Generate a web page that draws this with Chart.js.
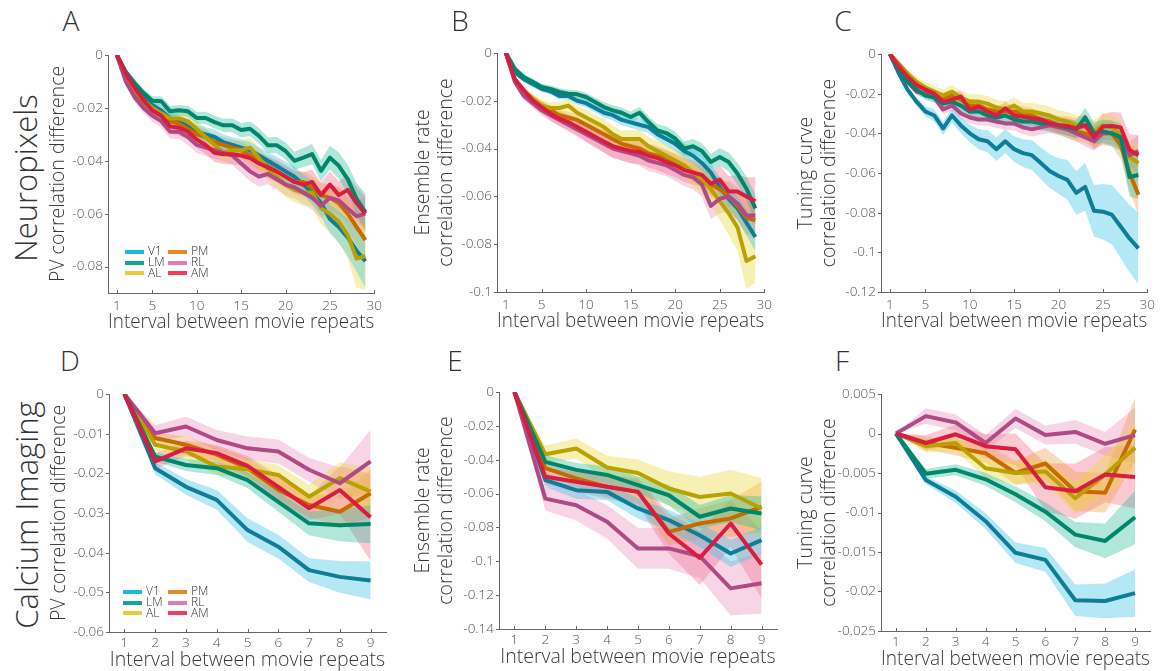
<!DOCTYPE html>
<html lang="en">
<head>
<meta charset="UTF-8" />
<title>Correlation difference vs interval between movie repeats</title>
<script src="https://cdn.jsdelivr.net/npm/chart.js@4"></script>
<style>
  body {
    margin: 0;
    width: 1161px;
    height: 671px;
    position: relative;
    overflow: hidden;
    background: #fff;
    font-family: "Open Sans", sans-serif;
    font-weight: 300;
    color: #333;
  }
  canvas { position: absolute; }
  .letter { position: absolute; font-size: 28px; line-height: 1; transform: translateX(-50%); }
  .row {
    position: absolute;
    font-size: 31px;
    white-space: nowrap;
    transform: translate(-50%, -50%) rotate(-90deg);
  }
  .leg { position: absolute; font-size: 12px; line-height: 12px; white-space: nowrap; }
  .leg span { display: inline-block; width: 19px; height: 4px; vertical-align: middle; margin-right: 4px; }
</style>
</head>
<body>
<div class="row" style="left:25px;top:178px">Neuropixels</div>
<div class="row" style="left:26px;top:515px">Calcium Imaging</div>

<script>
// ---- data ----
const AREAS = ["V1", "LM", "AL", "PM", "RL", "AM"];
const LINE_COLORS = ["#0e7d98", "#00866b", "#b8a100", "#c66b00", "#b04a86", "#d81d40"];
const BAND_COLORS = [
  "rgba(60,195,228,0.38)", "rgba(40,185,155,0.36)", "rgba(235,215,60,0.38)",
  "rgba(238,150,60,0.34)", "rgba(232,125,178,0.32)", "rgba(242,75,105,0.30)"
];
const LEGEND_COLORS = ["#1db8da", "#12a98a", "#e6cb3c", "#e38a2b", "#e07cb4", "#ef3f5f"];

const X_NP = [1,2,3,4,5,6,7,8,9,10,11,12,13,14,15,16,17,18,19,20,21,22,23,24,25,26,27,28,29];
const X_CA = [1,2,3,4,5,6,7,8,9];
const X_TICKS_NP = [1, 5, 10, 15, 20, 25, 30];
const X_TICKS_CA = [1, 2, 3, 4, 5, 6, 7, 8, 9];

const Y_TICKS_A = [0, -0.02, -0.04, -0.06, -0.08];
const Y_TICKS_B = [0, -0.02, -0.04, -0.06, -0.08, -0.1];
const Y_TICKS_C = [0, -0.02, -0.04, -0.06, -0.08, -0.1, -0.12];
const Y_TICKS_D = [0, -0.01, -0.02, -0.03, -0.04, -0.05, -0.06];
const Y_TICKS_E = [0, -0.02, -0.04, -0.06, -0.08, -0.1, -0.12, -0.14];
const Y_TICKS_F = [0.005, 0, -0.005, -0.01, -0.015, -0.02, -0.025];

// A: Neuropixels, PV correlation
const A_V1 = [0,-0.008,-0.012,-0.016,-0.019,-0.021,-0.024,-0.025,-0.027,-0.029,-0.030,-0.031,-0.033,-0.034,-0.035,-0.036,-0.038,-0.040,-0.042,-0.044,-0.046,-0.049,-0.052,-0.056,-0.062,-0.065,-0.069,-0.074,-0.078];
const A_LM = [0,-0.0063,-0.0106,-0.0144,-0.0173,-0.0175,-0.0213,-0.0209,-0.0213,-0.0238,-0.0238,-0.0254,-0.0266,-0.0266,-0.0284,-0.0279,-0.0306,-0.0341,-0.0341,-0.0363,-0.0400,-0.0388,-0.0375,-0.0438,-0.0388,-0.0419,-0.0469,-0.0544,-0.0594];
const A_AL = [0,-0.008,-0.013,-0.017,-0.020,-0.022,-0.024,-0.024,-0.025,-0.028,-0.031,-0.034,-0.037,-0.036,-0.036,-0.035,-0.039,-0.043,-0.046,-0.049,-0.051,-0.052,-0.052,-0.058,-0.060,-0.063,-0.068,-0.077,-0.076];
const A_PM = [0,-0.009,-0.014,-0.018,-0.021,-0.023,-0.025,-0.026,-0.028,-0.030,-0.031,-0.033,-0.034,-0.035,-0.036,-0.038,-0.040,-0.042,-0.044,-0.046,-0.048,-0.048,-0.050,-0.053,-0.054,-0.056,-0.060,-0.065,-0.070];
const A_RL = [0,-0.010,-0.016,-0.020,-0.023,-0.025,-0.029,-0.029,-0.031,-0.034,-0.035,-0.036,-0.037,-0.038,-0.041,-0.044,-0.046,-0.045,-0.047,-0.049,-0.050,-0.052,-0.054,-0.057,-0.054,-0.055,-0.058,-0.061,-0.060];
const A_AM = [0,-0.0069,-0.0125,-0.017,-0.021,-0.023,-0.027,-0.0275,-0.029,-0.032,-0.034,-0.037,-0.0375,-0.0375,-0.038,-0.039,-0.041,-0.0425,-0.044,-0.046,-0.048,-0.049,-0.048,-0.053,-0.049,-0.053,-0.051,-0.056,-0.060];
const A_V1_ERR = [0,.001,.0015,.0018,.002,.002,.0022,.0024,.0025,.0026,.0027,.0028,.0029,.003,.003,.0031,.0032,.0033,.0035,.0036,.0038,.004,.0045,.005,.0055,.006,.007,.008,.01];
const A_LM_ERR = [0,.001,.0013,.0015,.0017,.0018,.002,.002,.0021,.0022,.0023,.0024,.0025,.0026,.0027,.0028,.003,.003,.0031,.0032,.0034,.0036,.0038,.004,.0045,.005,.0055,.006,.007];
const A_AL_ERR = [0,.0012,.0016,.002,.0022,.0024,.0026,.0028,.003,.003,.0032,.0034,.0035,.0036,.0037,.0038,.004,.0042,.0044,.0046,.0048,.005,.0055,.006,.007,.008,.009,.011,.013];
const A_PM_ERR = [0,.001,.0014,.0018,.002,.0022,.0024,.0025,.0026,.0027,.0028,.003,.003,.0031,.0032,.0033,.0034,.0035,.0036,.0037,.0038,.004,.0042,.0045,.005,.0055,.006,.007,.008];
const A_RL_ERR = [0,.0012,.0016,.002,.0022,.0024,.0026,.0028,.003,.0031,.0032,.0033,.0034,.0035,.0036,.0037,.0038,.0039,.004,.0041,.0042,.0043,.0045,.0047,.005,.0052,.0055,.006,.0065];
const A_AM_ERR = [0,.0012,.0016,.002,.0023,.0025,.0027,.0029,.003,.0032,.0034,.0036,.0037,.0038,.0039,.004,.0041,.0042,.0043,.0044,.0045,.0046,.0047,.0048,.005,.0053,.0056,.006,.0065];

// B: Neuropixels, ensemble rate correlation
const B_V1 = [0,-0.008,-0.011,-0.013,-0.015,-0.016,-0.018,-0.018,-0.020,-0.021,-0.023,-0.025,-0.026,-0.028,-0.029,-0.030,-0.031,-0.034,-0.036,-0.038,-0.041,-0.043,-0.046,-0.050,-0.056,-0.061,-0.065,-0.071,-0.077];
const B_LM = [0,-0.0066,-0.010,-0.012,-0.0142,-0.015,-0.0163,-0.017,-0.0173,-0.0184,-0.0205,-0.0226,-0.024,-0.025,-0.0268,-0.025,-0.0289,-0.0324,-0.0335,-0.0358,-0.040,-0.039,-0.041,-0.0456,-0.0435,-0.0456,-0.0505,-0.0568,-0.065];
const B_AL = [0,-0.011,-0.016,-0.019,-0.022,-0.023,-0.023,-0.022,-0.025,-0.027,-0.029,-0.031,-0.034,-0.036,-0.036,-0.036,-0.039,-0.041,-0.043,-0.045,-0.047,-0.050,-0.053,-0.057,-0.062,-0.067,-0.073,-0.087,-0.085];
const B_PM = [0,-0.011,-0.016,-0.020,-0.022,-0.024,-0.026,-0.027,-0.028,-0.030,-0.032,-0.034,-0.036,-0.038,-0.039,-0.040,-0.042,-0.043,-0.044,-0.046,-0.048,-0.050,-0.052,-0.055,-0.057,-0.060,-0.064,-0.069,-0.070];
const B_RL = [0,-0.012,-0.018,-0.021,-0.024,-0.026,-0.028,-0.030,-0.032,-0.034,-0.036,-0.038,-0.040,-0.041,-0.042,-0.043,-0.045,-0.046,-0.047,-0.049,-0.051,-0.052,-0.055,-0.064,-0.061,-0.060,-0.063,-0.068,-0.068];
const B_AM = [0,-0.011,-0.0156,-0.0198,-0.0226,-0.0254,-0.0275,-0.0289,-0.031,-0.033,-0.035,-0.037,-0.039,-0.040,-0.041,-0.0414,-0.043,-0.044,-0.0456,-0.047,-0.049,-0.050,-0.051,-0.0547,-0.053,-0.058,-0.058,-0.060,-0.062];
const B_V1_ERR = [0,.0008,.001,.0012,.0013,.0014,.0015,.0016,.0017,.0018,.0019,.002,.0021,.0022,.0023,.0024,.0025,.0026,.0028,.003,.0032,.0034,.0036,.0038,.004,.0045,.005,.0055,.006];
const B_LM_ERR = [0,.0008,.001,.0012,.0013,.0014,.0015,.0016,.0017,.0018,.0019,.002,.0021,.0022,.0023,.0024,.0025,.0026,.0027,.0028,.003,.0031,.0032,.0034,.0036,.004,.0045,.005,.006];
const B_AL_ERR = [0,.0012,.0016,.002,.0022,.0024,.0026,.0028,.003,.0032,.0033,.0034,.0035,.0036,.0037,.0038,.004,.0042,.0044,.0046,.005,.0055,.006,.007,.008,.009,.01,.012,.011];
const B_PM_ERR = [0,.001,.0014,.0017,.0019,.002,.0022,.0023,.0024,.0025,.0026,.0027,.0028,.0029,.003,.0031,.0032,.0033,.0034,.0035,.0037,.004,.0042,.0045,.005,.0055,.006,.007,.008];
const B_RL_ERR = [0,.0012,.0016,.002,.0022,.0024,.0026,.0028,.003,.0032,.0034,.0036,.0038,.004,.0041,.0042,.0043,.0044,.0045,.0046,.0048,.005,.0052,.0055,.006,.0065,.007,.0075,.008];
const B_AM_ERR = [0,.0014,.0018,.0022,.0025,.0028,.003,.0033,.0036,.004,.0043,.0046,.0048,.005,.005,.005,.005,.005,.005,.005,.005,.005,.0052,.0055,.006,.0065,.007,.008,.01];

// C: Neuropixels, tuning curve correlation
const C_V1 = [0,-0.0097,-0.018,-0.024,-0.029,-0.031,-0.0375,-0.031,-0.036,-0.040,-0.043,-0.044,-0.048,-0.044,-0.048,-0.050,-0.051,-0.055,-0.059,-0.0615,-0.0635,-0.070,-0.067,-0.079,-0.0795,-0.081,-0.087,-0.093,-0.098];
const C_LM = [0,-0.008,-0.014,-0.018,-0.021,-0.022,-0.025,-0.024,-0.026,-0.029,-0.029,-0.031,-0.032,-0.031,-0.033,-0.034,-0.034,-0.035,-0.035,-0.036,-0.037,-0.038,-0.032,-0.040,-0.039,-0.040,-0.042,-0.062,-0.061];
const C_AL = [0,-0.006,-0.010,-0.014,-0.017,-0.019,-0.021,-0.019,-0.022,-0.024,-0.024,-0.025,-0.027,-0.028,-0.026,-0.029,-0.029,-0.030,-0.031,-0.033,-0.034,-0.036,-0.037,-0.039,-0.036,-0.037,-0.041,-0.052,-0.055];
const C_PM = [0,-0.005,-0.010,-0.015,-0.018,-0.020,-0.022,-0.021,-0.023,-0.026,-0.026,-0.028,-0.029,-0.029,-0.029,-0.030,-0.031,-0.033,-0.034,-0.036,-0.038,-0.039,-0.040,-0.042,-0.040,-0.040,-0.046,-0.060,-0.071];
const C_RL = [0,-0.008,-0.014,-0.019,-0.020,-0.022,-0.028,-0.026,-0.030,-0.032,-0.033,-0.033,-0.034,-0.035,-0.035,-0.037,-0.038,-0.037,-0.036,-0.037,-0.038,-0.040,-0.042,-0.044,-0.040,-0.040,-0.042,-0.051,-0.049];
const C_AM = [0,-0.0064,-0.0114,-0.0156,-0.018,-0.020,-0.024,-0.023,-0.0215,-0.028,-0.0266,-0.029,-0.031,-0.0274,-0.031,-0.0316,-0.0324,-0.033,-0.035,-0.0358,-0.0363,-0.0375,-0.0358,-0.042,-0.0366,-0.0363,-0.037,-0.0484,-0.051];
const C_V1_ERR = [0,.001,.0015,.002,.0025,.003,.0035,.0035,.004,.0045,.005,.0055,.006,.006,.0065,.007,.0075,.008,.0085,.009,.01,.011,.012,.013,.014,.015,.016,.017,.018];
const C_LM_ERR = [0,.001,.0015,.002,.0022,.0024,.0026,.0028,.003,.003,.003,.0032,.0032,.0033,.0034,.0035,.0036,.0037,.0038,.004,.0042,.0045,.005,.0055,.006,.0065,.007,.01,.012];
const C_AL_ERR = [0,.0015,.002,.0025,.0028,.003,.0032,.0034,.0035,.0036,.0037,.0038,.0039,.004,.0041,.0042,.0043,.0044,.0045,.0046,.0048,.005,.0052,.0055,.006,.0065,.007,.008,.009];
const C_PM_ERR = [0,.0012,.0016,.002,.0022,.0024,.0026,.0028,.003,.003,.0031,.0032,.0033,.0034,.0035,.0036,.0037,.0038,.004,.0042,.0045,.0048,.005,.0055,.006,.0065,.007,.009,.01];
const C_RL_ERR = [0,.001,.0014,.0018,.002,.0022,.0024,.0026,.0028,.003,.003,.0031,.0032,.0033,.0034,.0035,.0036,.0037,.0038,.004,.0042,.0044,.0046,.0048,.005,.0055,.006,.007,.008];
const C_AM_ERR = [0,.0012,.0016,.002,.0023,.0025,.0027,.0029,.003,.0032,.0033,.0034,.0035,.0036,.0037,.0038,.004,.0042,.0044,.0046,.0048,.005,.0055,.006,.0065,.007,.0075,.008,.01];

// D: Calcium imaging, PV correlation
const D_V1 = [0,-0.0187,-0.0234,-0.0267,-0.0343,-0.0385,-0.0444,-0.0461,-0.047];
const D_LM = [0,-0.0158,-0.0179,-0.0187,-0.0217,-0.0272,-0.0326,-0.0331,-0.0328];
const D_AL = [0,-0.0128,-0.0145,-0.0183,-0.019,-0.0204,-0.0259,-0.0212,-0.0246];
const D_PM = [0,-0.0111,-0.0128,-0.0153,-0.0187,-0.0242,-0.028,-0.0297,-0.025];
const D_RL = [0,-0.0099,-0.0082,-0.0116,-0.0137,-0.0145,-0.0191,-0.0225,-0.017];
const D_AM = [0,-0.017,-0.0137,-0.0149,-0.0181,-0.0234,-0.0288,-0.0242,-0.0311];
const D_V1_ERR = [0,.0015,.002,.0025,.003,.003,.003,.004,.0048];
const D_LM_ERR = [0,.0012,.0015,.0017,.002,.0025,.003,.004,.0048];
const D_AL_ERR = [0,.0015,.002,.002,.0025,.0025,.003,.004,.006];
const D_PM_ERR = [0,.0015,.002,.002,.0025,.003,.003,.004,.006];
const D_RL_ERR = [0,.002,.0025,.0025,.003,.003,.003,.004,.008];
const D_AM_ERR = [0,.002,.002,.002,.0025,.003,.003,.006,.011];

// E: Calcium imaging, ensemble rate correlation
const E_V1 = [0,-0.052,-0.058,-0.059,-0.0688,-0.0757,-0.0846,-0.0954,-0.0875];
const E_LM = [0,-0.0413,-0.046,-0.049,-0.055,-0.061,-0.0737,-0.0688,-0.0718];
const E_AL = [0,-0.0368,-0.0334,-0.0446,-0.0478,-0.057,-0.062,-0.060,-0.0688];
const E_PM = [0,-0.045,-0.051,-0.056,-0.059,-0.0826,-0.0777,-0.0747,-0.0678];
const E_RL = [0,-0.063,-0.0669,-0.0767,-0.0924,-0.0924,-0.097,-0.116,-0.113];
const E_AM = [0,-0.0501,-0.053,-0.056,-0.059,-0.0836,-0.098,-0.0777,-0.102];
const E_V1_ERR = [0,.004,.005,.005,.006,.006,.007,.008,.008];
const E_LM_ERR = [0,.004,.004,.005,.005,.006,.007,.008,.01];
const E_AL_ERR = [0,.005,.006,.007,.008,.01,.012,.014,.018];
const E_PM_ERR = [0,.004,.005,.006,.007,.008,.009,.011,.015];
const E_RL_ERR = [0,.007,.009,.01,.012,.012,.013,.016,.018];
const E_AM_ERR = [0,.005,.006,.007,.008,.012,.016,.014,.02];

// F: Calcium imaging, tuning curve correlation
const F_V1 = [0,-0.0059,-0.008,-0.0111,-0.0151,-0.016,-0.0211,-0.0212,-0.0202];
const F_LM = [0,-0.0051,-0.0046,-0.0058,-0.0077,-0.0099,-0.0128,-0.0136,-0.0106];
const F_AL = [0,-0.0016,-0.0012,-0.0044,-0.005,-0.0048,-0.0082,-0.0052,-0.0018];
const F_PM = [0,-0.0012,-0.0018,-0.0025,-0.005,-0.0038,-0.0073,-0.0075,0.0005];
const F_RL = [0,0.0022,0.0014,-0.0012,0.0019,-0.0002,0.0002,-0.0013,-0.0002];
const F_AM = [0,-0.0012,-0.0001,-0.0016,-0.002,-0.0068,-0.0073,-0.0052,-0.0055];
const F_V1_ERR = [0,.0005,.0008,.001,.0013,.0015,.002,.0022,.003];
const F_LM_ERR = [0,.0006,.0007,.0008,.001,.0012,.0016,.0022,.0034];
const F_AL_ERR = [0,.0008,.001,.0012,.0015,.0015,.002,.0025,.003];
const F_PM_ERR = [0,.0008,.001,.0012,.0015,.002,.0025,.0025,.004];
const F_RL_ERR = [0,.001,.001,.001,.0012,.0012,.0015,.0015,.0035];
const F_AM_ERR = [0,.001,.0012,.0015,.002,.003,.0035,.0035,.004];

const X_TITLE = "Interval between movie repeats";

// ---- layout: chart area edges in page pixels, y-axis box width, title paddings ----
const PANELS = [
  { id: "A", L: 108, T: 55, R: 377, B: 293, yW: 65, xs: X_NP, xMin: 0, xMax: 30, xTicks: X_TICKS_NP,
    yMin: -0.09, yMax: 0, yTicks: Y_TICKS_A, yTitle: ["PV correlation difference"], yPad: 4, xPad: 7, xTickPad: 5,
    series: [A_V1, A_LM, A_AL, A_PM, A_RL, A_AM], errs: [A_V1_ERR, A_LM_ERR, A_AL_ERR, A_PM_ERR, A_RL_ERR, A_AM_ERR],
    legend: { x1: 125, x2: 168, y: 251 } },
  { id: "B", L: 497, T: 53, R: 767, B: 292, yW: 90, xs: X_NP, xMin: 0, xMax: 30, xTicks: X_TICKS_NP,
    yMin: -0.1, yMax: 0, yTicks: Y_TICKS_B, yTitle: ["Ensemble rate", "correlation difference"], yPad: 4.5, xPad: 7, xTickPad: 5,
    series: [B_V1, B_LM, B_AL, B_PM, B_RL, B_AM], errs: [B_V1_ERR, B_LM_ERR, B_AL_ERR, B_PM_ERR, B_RL_ERR, B_AM_ERR] },
  { id: "C", L: 881, T: 54, R: 1150, B: 292, yW: 90, xs: X_NP, xMin: 0, xMax: 30, xTicks: X_TICKS_NP,
    yMin: -0.12, yMax: 0, yTicks: Y_TICKS_C, yTitle: ["Tuning curve", "correlation difference"], yPad: 3.5, xPad: 7, xTickPad: 5,
    series: [C_V1, C_LM, C_AL, C_PM, C_RL, C_AM], errs: [C_V1_ERR, C_LM_ERR, C_AL_ERR, C_PM_ERR, C_RL_ERR, C_AM_ERR] },
  { id: "D", L: 109, T: 394, R: 386, B: 632, yW: 65, xs: X_CA, xMin: 0.5, xMax: 9.5, xTicks: X_TICKS_CA,
    yMin: -0.06, yMax: 0, yTicks: Y_TICKS_D, yTitle: ["PV correlation difference"], yPad: 4, xPad: 8, xTickPad: 3,
    series: [D_V1, D_LM, D_AL, D_PM, D_RL, D_AM], errs: [D_V1_ERR, D_LM_ERR, D_AL_ERR, D_PM_ERR, D_RL_ERR, D_AM_ERR],
    legend: { x1: 123, x2: 168, y: 591 } },
  { id: "E", L: 499, T: 392, R: 777, B: 629, yW: 90, xs: X_CA, xMin: 0.5, xMax: 9.5, xTicks: X_TICKS_CA,
    yMin: -0.14, yMax: 0, yTicks: Y_TICKS_E, yTitle: ["Ensemble rate", "correlation difference"], yPad: 2.5, xPad: 8, xTickPad: 3,
    series: [E_V1, E_LM, E_AL, E_PM, E_RL, E_AM], errs: [E_V1_ERR, E_LM_ERR, E_AL_ERR, E_PM_ERR, E_RL_ERR, E_AM_ERR] },
  { id: "F", L: 881, T: 394, R: 1150, B: 631, yW: 90, xs: X_CA, xMin: 0.5, xMax: 9.5, xTicks: X_TICKS_CA,
    yMin: -0.025, yMax: 0.005, yTicks: Y_TICKS_F, yTitle: ["Tuning curve", "correlation difference"], yPad: 3.5, xPad: 8, xTickPad: 3,
    series: [F_V1, F_LM, F_AL, F_PM, F_RL, F_AM], errs: [F_V1_ERR, F_LM_ERR, F_AL_ERR, F_PM_ERR, F_RL_ERR, F_AM_ERR] }
];
const LETTER_POS = { A: [71, 6], B: [460, 6], C: [843, 6], D: [70, 346], E: [455, 346], F: [842, 346] };

const X_AXIS_H = 48, PAD_T = 15, PAD_R = 10;
const AXIS_COLOR = "#666";
const TICK_COLOR = "#555";
const TITLE_COLOR = "#3a3a3a";
const FONT = "'Open Sans', sans-serif";
// draw order: lower = on top
const LINE_ORDER = [5, 1, 3, 4, 2, 0];

Chart.defaults.font.family = FONT;
Chart.defaults.font.weight = 300;

// tick marks: outward on y, inward on x (as in the figure)
const tickMarks = {
  id: "tickMarks",
  afterDraw(chart) {
    const { ctx, chartArea: a, scales: { x, y } } = chart;
    ctx.save();
    ctx.strokeStyle = AXIS_COLOR;
    ctx.lineWidth = 1;
    ctx.beginPath();
    y.ticks.forEach(t => {
      const py = Math.round(y.getPixelForValue(t.value)) + 0.5;
      ctx.moveTo(a.left - 3, py);
      ctx.lineTo(a.left, py);
    });
    x.ticks.forEach(t => {
      const px = Math.round(x.getPixelForValue(t.value)) + 0.5;
      ctx.moveTo(px, a.bottom);
      ctx.lineTo(px, a.bottom - 3);
    });
    ctx.stroke();
    ctx.restore();
  }
};

function fmt(v) {
  return String(+Number(v).toFixed(4));
}

function buildPanel(p) {
  const canvas = document.createElement("canvas");
  const left = p.L - p.yW, top = p.T - PAD_T;
  const w = p.R + PAD_R - left, h = p.B + X_AXIS_H - top;
  canvas.width = w;
  canvas.height = h;
  canvas.style.left = left + "px";
  canvas.style.top = top + "px";
  document.body.appendChild(canvas);

  const datasets = [];
  // shaded bands first (upper fills down to lower)
  p.series.forEach((vals, i) => {
    const err = p.errs[i];
    datasets.push({
      data: vals.map((v, k) => ({ x: p.xs[k], y: v + err[k] })),
      fill: "+1", backgroundColor: BAND_COLORS[i], borderWidth: 0, pointRadius: 0, order: 20 + i
    });
    datasets.push({
      data: vals.map((v, k) => ({ x: p.xs[k], y: v - err[k] })),
      fill: false, borderWidth: 0, pointRadius: 0, order: 20 + i
    });
  });
  p.series.forEach((vals, i) => {
    datasets.push({
      label: AREAS[i],
      data: vals.map((v, k) => ({ x: p.xs[k], y: v })),
      borderColor: LINE_COLORS[i], borderWidth: 4, pointRadius: 0, fill: false,
      borderJoinStyle: "round", tension: 0, order: LINE_ORDER[i]
    });
  });

  new Chart(canvas.getContext("2d"), {
    type: "line",
    data: { datasets },
    plugins: [tickMarks],
    options: {
      responsive: false,
      animation: false,
      devicePixelRatio: 1,
      layout: { autoPadding: false, padding: { top: PAD_T, right: PAD_R, left: 0, bottom: 0 } },
      plugins: { legend: { display: false }, tooltip: { enabled: false } },
      scales: {
        x: {
          type: "linear", min: p.xMin, max: p.xMax,
          afterFit: s => { s.height = X_AXIS_H; },
          afterBuildTicks: s => { s.ticks = p.xTicks.map(v => ({ value: v })); },
          grid: { display: false, drawTicks: false },
          border: { display: true, color: AXIS_COLOR, width: 1 },
          ticks: { color: TICK_COLOR, font: { size: 13.5 }, padding: p.xTickPad, autoSkip: false, maxRotation: 0, callback: v => fmt(v) },
          title: { display: true, text: X_TITLE, color: TITLE_COLOR, font: { size: 19.5, lineHeight: 1.18 }, padding: { top: 0, bottom: p.xPad } }
        },
        y: {
          type: "linear", min: p.yMin, max: p.yMax,
          afterFit: s => { s.width = p.yW; },
          afterBuildTicks: s => { s.ticks = p.yTicks.map(v => ({ value: v })); },
          grid: { display: false, drawTicks: false },
          border: { display: true, color: AXIS_COLOR, width: 1 },
          ticks: { color: TICK_COLOR, font: { size: 13.5 }, padding: 5, autoSkip: false, callback: v => fmt(v) },
          title: { display: true, text: p.yTitle, color: TITLE_COLOR, font: { size: 19.5, lineHeight: 1.18 }, padding: { top: p.yPad, bottom: 0 } }
        }
      }
    }
  });

  const letter = document.createElement("div");
  letter.className = "letter";
  letter.textContent = p.id;
  letter.style.left = LETTER_POS[p.id][0] + "px";
  letter.style.top = LETTER_POS[p.id][1] + "px";
  document.body.appendChild(letter);

  if (p.legend) {
    AREAS.forEach((name, i) => {
      const item = document.createElement("div");
      item.className = "leg";
      const col = i < 3 ? p.legend.x1 : p.legend.x2;
      item.style.left = col + "px";
      item.style.top = (p.legend.y + (i % 3) * 10.8 - 6) + "px";
      const sw = document.createElement("span");
      sw.style.background = LEGEND_COLORS[i];
      item.appendChild(sw);
      item.appendChild(document.createTextNode(name));
      document.body.appendChild(item);
    });
  }
}

PANELS.forEach(buildPanel);
</script>
</body>
</html>
